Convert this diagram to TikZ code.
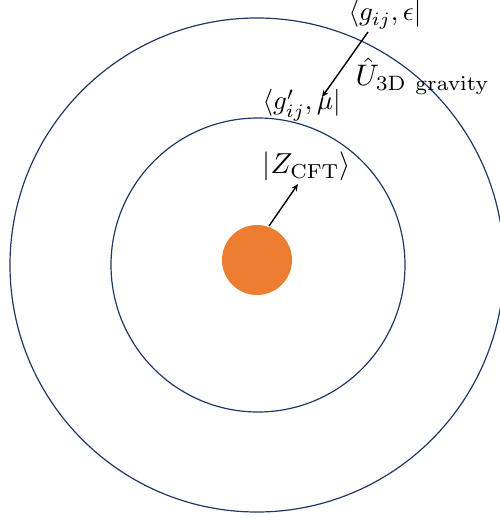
\documentclass[tikz,border=0pt]{standalone}
\usetikzlibrary{arrows.meta}
\definecolor{ringblue}{HTML}{203864}
\definecolor{coreorange}{HTML}{ED7D31}
\tikzset{
  ring/.style={draw=ringblue, line width=1.2pt},
  core/.style={fill=coreorange, draw=none},
  lbl/.style={inner sep=0pt, anchor=base west, scale=2.7},
  ptr/.style={-{Stealth[length=7pt,width=6pt]}, line width=1.4pt, black}
}
\begin{document}
\begin{tikzpicture}[x=1pt, y=-1pt]
\useasboundingbox (0,0) rectangle (499,518);
\draw[ring] (257,265) circle[radius=247];
\draw[ring] (258,265) circle[radius=147];
\fill[core] (257,260) circle[radius=35];
\node[lbl] (bra1) at (348,21) {$\langle g_{ij},\epsilon|$};
\node[lbl, scale=1.1] (uop) at (355,86) {$\hat{U}_{\mathrm{3D\ gravity}}$};
\node[lbl] (bra2) at (262,110) {$\langle g'_{ij},\mu|$};
\node[lbl, scale=1.07] (ket) at (262,174) {$|Z_{\mathrm{CFT}}\rangle$};
\coordinate (a1s) at (368,32);
\coordinate (a1e) at (322,97);
\coordinate (a2s) at (269,226);
\coordinate (a2e) at (298,184);
\draw[ptr] (a1s) -- (a1e);
\draw[ptr] (a2s) -- (a2e);
\end{tikzpicture}
\end{document}
